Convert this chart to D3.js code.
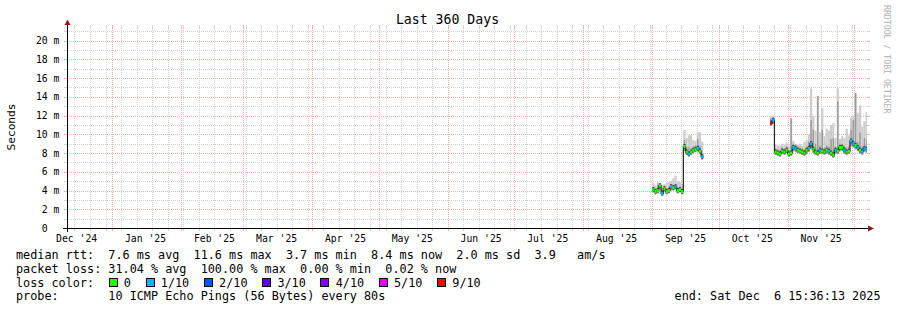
<!DOCTYPE html>
<html>
<head>
<meta charset="utf-8">
<script src="https://cdn.jsdelivr.net/npm/d3@7"></script>
<style>
body { margin: 0; background: #fff; }
text { font-family: "DejaVu Sans Mono", monospace; white-space: pre; }
</style>
</head>
<body>
<svg id="chart" width="897" height="310"></svg>
<script>
// time span of the graph
const endTime = new Date(2025, 11, 6, 15, 36, 13);
const startTime = d3.timeDay.offset(endTime, -360);

const yTicks = [0, 2, 4, 6, 8, 10, 12, 14, 16, 18, 20];
const monthLabels = ["Dec '24", "Jan '25", "Feb '25", "Mar '25", "Apr '25", "May '25",
  "Jun '25", "Jul '25", "Aug '25", "Sep '25", "Oct '25", "Nov '25"];

const lossLabels = ["0", "1/10", "2/10", "3/10", "4/10", "5/10", "9/10"];
const lossColors = ["#26ff00", "#00b8ff", "#0059ff", "#5e00ff", "#7e00ff", "#dd00ff", "#ff0000"];

// first block of data, one value per day from Sep 1 (ms, lost pings of 10)
const sepStart = new Date(2025, 8, 1);
const sepMedian = [4.1, 3.9, 4.0, 4.5, 3.7, 4.2, 3.9, 4.0, 4.4, 4.3, 4.4, 4.0, 4.1, 3.9,
  8.7, 8.1, 7.9, 8.1, 8.3, 8.4, 8.5, 8.2, 7.6];
const sepLoss = [0, 0, 0, 0, 1, 0, 0, 0, 1, 0, 1, 0, 0, 0, 0, 0, 1, 0, 0, 0, 1, 0, 1];
const sepSmokeHi = [4.8, 4.6, 4.9, 4.8, 4.6, 4.7, 4.8, 4.9, 5.0, 5.3, 5.6, 5.0, 4.9, 4.7,
  10.5, 9.6, 9.9, 9.9, 9.4, 9.3, 10.2, 10.2, 9.2];
const sepSmokeMid = [4.4, 4.2, 4.6, 4.7, 4.1, 4.4, 4.2, 4.3, 4.6, 4.6, 4.7, 4.3, 4.4, 4.2,
  9.4, 8.6, 8.6, 8.5, 8.7, 8.8, 9.5, 8.8, 8.0];
const sepSmokeLo = [3.8, 3.6, 3.7, 4.1, 3.4, 3.9, 3.6, 3.7, 4.0, 4.0, 4.1, 3.7, 3.8, 3.6,
  8.2, 7.8, 7.6, 7.8, 8.0, 8.1, 8.2, 7.9, 7.3];

// second block, one value per day from Oct 24
const octStart = new Date(2025, 9, 24);
const octMedian = [11.2, 11.5,
  8.1, 8.0, 7.9, 8.2, 8.1, 8.3, 7.9, 8.0, 8.6, 8.5, 8.3, 8.2, 8.1, 8.0, 8.3, 8.5,
  9.0, 8.4, 8.1, 8.0, 8.3, 8.2, 8.1, 8.3, 8.2, 8.0, 7.8, 8.3, 8.2, 8.6, 8.6, 8.3,
  8.1, 8.2, 9.3, 9.0, 8.8, 8.6, 8.3, 8.2, 8.5, 8.4];
const octLoss = [9, 1,
  0, 0, 0, 0, 0, 0, 0, 0, 1, 1, 0, 0, 0, 0, 0, 1,
  1, 0, 0, 0, 1, 0, 0, 0, 1, 0, 0, 1, 0, 0, 0, 1,
  0, 0, 1, 1, 0, 1, 0, 1, 1, 1];
const octSmokeHi = [11.9, 12.0,
  8.9, 8.8, 8.8, 9.0, 8.9, 9.1, 8.8, 11.7, 9.3, 9.0, 8.9, 9.0, 8.8, 9.2, 9.4, 10.0,
  14.9, 12.0, 10.4, 14.1, 10.2, 12.8, 9.8, 10.6, 10.4, 11.0, 11.2, 9.6, 14.9, 9.5, 9.8, 9.6,
  10.6, 9.9, 11.8, 12.0, 14.4, 12.3, 13.1, 10.8, 11.4, 12.4];
const octSmokeMid = [11.7, 11.8,
  8.5, 8.4, 8.3, 8.6, 8.5, 8.7, 8.3, 11.7, 9.0, 8.9, 8.7, 8.6, 8.5, 8.4, 8.7, 9.2,
  11.5, 10.5, 9.0, 14.1, 8.8, 10.5, 8.6, 8.8, 8.7, 9.5, 9.6, 8.7, 13.5, 9.0, 9.0, 8.8,
  8.6, 8.7, 10.5, 11.5, 14.4, 9.2, 10.2, 8.7, 9.6, 9.5];
const octSmokeLo = [10.9, 11.1,
  7.8, 7.7, 7.6, 7.9, 7.8, 8.0, 7.6, 7.7, 8.2, 8.1, 8.0, 7.9, 7.8, 7.7, 7.9, 8.1,
  8.5, 8.0, 7.8, 7.7, 7.9, 7.9, 7.8, 7.9, 7.8, 7.7, 7.5, 7.9, 7.9, 8.2, 8.2, 7.9,
  7.8, 7.9, 8.7, 8.6, 8.4, 8.2, 7.9, 7.8, 8.1, 8.0];

const legendRows = [
  "median rtt:  7.6 ms avg  11.6 ms max  3.7 ms min  8.4 ms now  2.0 ms sd  3.9   am/s",
  "packet loss: 31.04 % avg  100.00 % max  0.00 % min  0.02 % now",
  "loss color:",
  "probe:       10 ICMP Echo Pings (56 Bytes) every 80s"
];
const endLabel = "end: Sat Dec  6 15:36:13 2025";

const svg = d3.select("#chart");
const x = d3.scaleTime().domain([startTime, endTime]).range([67, 867]);
const y = d3.scaleLinear().domain([0, 21.35]).range([228, 28]);

const gridGray = "#d2d2d2", gridRed = "#f3b0b0";

// grid
const grid = svg.append("g").attr("shape-rendering", "crispEdges");
const minorY = d3.range(1, 22).filter(v => v % 2 != 0);
grid.selectAll(".hmin").data(minorY).join("line")
  .attr("x1", 67).attr("x2", 867).attr("y1", d => Math.round(y(d)) + 0.5).attr("y2", d => Math.round(y(d)) + 0.5)
  .attr("stroke", gridGray).attr("stroke-dasharray", "1,1");
grid.selectAll(".hmaj").data(yTicks.filter(d => d > 0)).join("line")
  .attr("x1", 67).attr("x2", 867).attr("y1", d => Math.round(y(d)) + 0.5).attr("y2", d => Math.round(y(d)) + 0.5)
  .attr("stroke", gridRed).attr("stroke-dasharray", "1,1");

const weeks = d3.timeSunday.range(startTime, endTime);
const months = d3.timeMonth.range(startTime, endTime);
grid.selectAll(".vmin").data(weeks).join("line")
  .attr("x1", d => Math.round(x(d)) + 0.5).attr("x2", d => Math.round(x(d)) + 0.5)
  .attr("y1", 28).attr("y2", 228)
  .attr("stroke", gridGray).attr("stroke-dasharray", "1,1");
grid.selectAll(".vmaj").data(months).join("line")
  .attr("x1", d => Math.round(x(d)) + 0.5).attr("x2", d => Math.round(x(d)) + 0.5)
  .attr("y1", 28).attr("y2", 228)
  .attr("stroke", gridRed).attr("stroke-dasharray", "1,1");

// small ticks on the edges
const ticks = svg.append("g").attr("shape-rendering", "crispEdges");
d3.range(1, 22).forEach(v => {
  const yy = Math.round(y(v)) + 0.5, c = v % 2 == 0 ? gridRed : gridGray;
  ticks.append("line").attr("x1", 64).attr("x2", 67).attr("y1", yy).attr("y2", yy).attr("stroke", c);
  ticks.append("line").attr("x1", 867).attr("x2", 870).attr("y1", yy).attr("y2", yy).attr("stroke", c);
});
weeks.concat(months).forEach(d => {
  const xx = Math.round(x(d)) + 0.5, c = months.includes(d) ? gridRed : gridGray;
  ticks.append("line").attr("x1", xx).attr("x2", xx).attr("y1", 228).attr("y2", 231).attr("stroke", c);
  ticks.append("line").attr("x1", xx).attr("x2", xx).attr("y1", 25).attr("y2", 28).attr("stroke", c);
});

// build point lists
function makeSeries(start, med, loss, hi, mid, lo) {
  return med.map((m, i) => {
    const t0 = d3.timeDay.offset(start, i);
    let t1 = d3.timeDay.offset(start, i + 1);
    if (t1 > endTime) t1 = endTime;
    return { t0, t1, med: m, loss: loss[i], hi: hi[i], mid: mid[i], lo: lo[i] };
  });
}
const blocks = [
  makeSeries(sepStart, sepMedian, sepLoss, sepSmokeHi, sepSmokeMid, sepSmokeLo),
  makeSeries(octStart, octMedian, octLoss, octSmokeHi, octSmokeMid, octSmokeLo)
];

function lossColor(n) {
  if (n >= 9) return lossColors[6];
  if (n >= 5) return lossColors[5];
  return lossColors[n];
}

const plot = svg.append("g");
blocks.forEach(pts => {
  plot.append("g").selectAll("rect").data(pts).join("rect")
    .attr("x", d => x(d.t0)).attr("width", d => x(d.t1) - x(d.t0))
    .attr("y", d => y(d.hi)).attr("height", d => y(d.lo) - y(d.hi))
    .attr("fill", "#cdcdcd");
  plot.append("g").selectAll("rect").data(pts).join("rect")
    .attr("x", d => x(d.t0) + 0.4).attr("width", d => x(d.t1) - x(d.t0) - 0.8)
    .attr("y", d => y(d.mid)).attr("height", d => y(d.lo) - y(d.mid))
    .attr("fill", "#9a9a9a");
  // dark band close to the median
  plot.append("g").selectAll("rect").data(pts).join("rect")
    .attr("x", d => x(d.t0)).attr("width", d => x(d.t1) - x(d.t0))
    .attr("y", d => y(d.med) - 2.5).attr("height", 4.5)
    .attr("fill", "#404040");

  const linePts = pts.map(d => [x(d.t0), y(d.med)]);
  const last = pts[pts.length - 1];
  linePts.push([x(last.t1), y(last.med)]);
  plot.append("path")
    .attr("d", d3.line().curve(d3.curveStepAfter)(linePts))
    .attr("fill", "none").attr("stroke", "#202020").attr("stroke-width", 1.2);

  plot.append("g").selectAll("rect").data(pts).join("rect")
    .attr("x", d => x(d.t0)).attr("width", d => x(d.t1) - x(d.t0))
    .attr("y", d => y(d.med) - 1.5).attr("height", 3)
    .attr("fill", d => lossColor(d.loss));
});

// axes
const axis = svg.append("g").attr("shape-rendering", "crispEdges");
axis.append("line").attr("x1", 63).attr("x2", 869).attr("y1", 228.5).attr("y2", 228.5).attr("stroke", "#000");
axis.append("line").attr("x1", 67.5).attr("x2", 67.5).attr("y1", 232).attr("y2", 24).attr("stroke", "#000");
svg.append("path").attr("d", "M868,225.5L874,228.5L868,231.5Z").attr("fill", "#8b1c1c");
svg.append("path").attr("d", "M64.5,25L67.5,19.5L70.5,25Z").attr("fill", "#8b1c1c");

// y labels
const ylab = svg.append("g").attr("font-size", "9.75px").attr("fill", "#000");
ylab.selectAll(".num").data(yTicks).join("text")
  .attr("x", 47.7).attr("y", d => y(d) + 3.5).attr("text-anchor", "end").text(d => d);
ylab.selectAll(".unit").data(yTicks.filter(d => d > 0)).join("text")
  .attr("x", 53.5).attr("y", d => y(d) + 3.5).text("m");

// x labels, centred half a month after the month start
const labelMonths = d3.timeMonth.range(d3.timeMonth.floor(startTime), endTime).slice(0, monthLabels.length);
svg.append("g").attr("font-size", "9.75px").attr("fill", "#000")
  .selectAll("text").data(labelMonths).join("text")
  .attr("x", d => x(d3.timeDay.offset(d, 15))).attr("y", 241.5)
  .attr("text-anchor", "middle").text((d, i) => monthLabels[i]);

// title and side texts
svg.append("text").attr("x", 447.5).attr("y", 24).attr("text-anchor", "middle")
  .attr("font-size", "13.2px").text("Last 360 Days");
svg.append("text").attr("transform", "translate(14.5,127) rotate(-90)").attr("text-anchor", "middle")
  .attr("font-size", "11.2px").text("Seconds");
svg.append("text").attr("transform", "translate(884,5) rotate(90)")
  .attr("font-size", "8.2px").attr("fill", "#b0b0b0").text("RRDTOOL / TOBI OETIKER");

// legend
const leg = svg.append("g").attr("font-size", "11.8px").attr("fill", "#000");
const rowY = [258.5, 272.5, 286.5, 300];
legendRows.forEach((r, i) => leg.append("text").attr("x", 16).attr("y", rowY[i]).text(r));
leg.append("text").attr("x", 880.5).attr("y", rowY[3]).attr("text-anchor", "end").text(endLabel);

let lx = 108.5;
lossLabels.forEach((l, i) => {
  leg.append("rect").attr("x", lx + 0.5).attr("y", 278.5).attr("width", 8).attr("height", 8)
    .attr("fill", lossColors[i]).attr("stroke", "#000").attr("shape-rendering", "crispEdges");
  leg.append("text").attr("x", lx + 15.3).attr("y", rowY[2]).text(l);
  lx = lx + 15.3 + l.length * 7.1 + 14.6;
});
</script>
</body>
</html>
